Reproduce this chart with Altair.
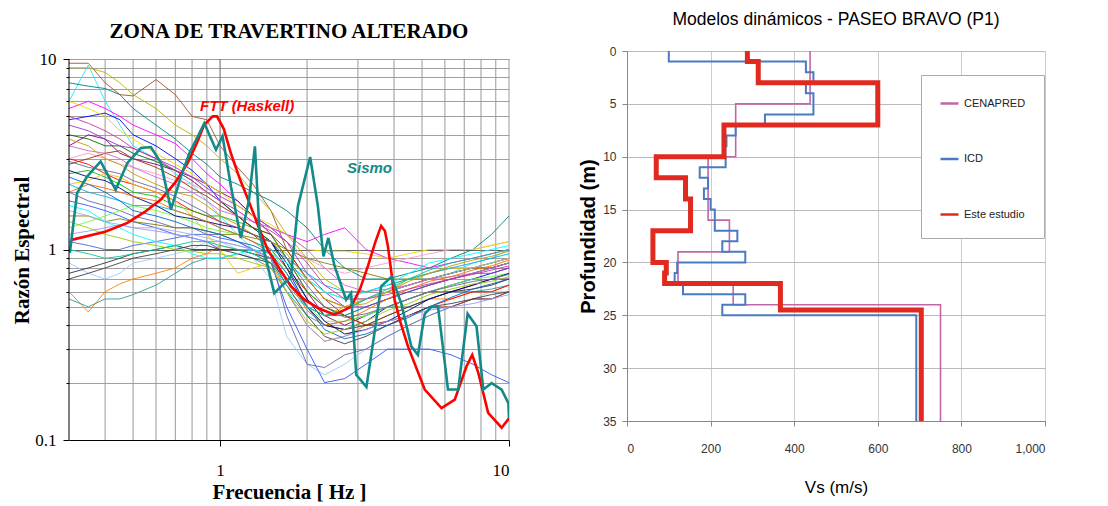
import altair as alt
import pandas as pd

# ---------------- Left panel data ----------------
freq = [0.3, 0.35, 0.4, 0.45, 0.5, 0.6, 0.7, 0.8, 0.9, 1.0, 1.15, 1.3, 1.5, 1.7,
        2.0, 2.3, 2.7, 3.2, 3.8, 4.5, 5.3, 6.3, 7.5, 8.7, 10.0]

s01 = [9.5, 9.5, 7.5, 6.5, 6.4, 7.8, 6.5, 5.0, 4.8, 3.5, 2.7, 2.2, 1.6, 1.0, 0.7, 0.55, 0.5, 0.55, 0.6, 0.65, 0.7, 0.75, 0.8, 0.8, 0.85]
s02 = [6.0, 9.3, 6.0, 4.5, 3.5, 3.0, 2.5, 2.2, 1.8, 1.5, 1.2, 1.0, 0.8, 0.6, 0.5, 0.45, 0.5, 0.55, 0.6, 0.7, 0.7, 0.75, 0.85, 0.9, 1.0]
s03 = [9.0, 9.0, 8.5, 7.5, 6.5, 5.5, 4.5, 4.0, 3.5, 3.0, 2.5, 2.0, 1.6, 1.2, 0.9, 0.7, 0.6, 0.6, 0.65, 0.7, 0.75, 0.8, 0.8, 0.85, 0.9]
s04 = [7.5, 7.2, 7.0, 6.5, 5.5, 4.5, 3.8, 3.2, 2.8, 2.4, 2.2, 2.0, 1.8, 1.6, 1.3, 1.0, 0.8, 0.7, 0.7, 0.75, 0.8, 0.9, 1.0, 1.2, 1.5]
s05 = [5.5, 6.0, 5.5, 5.0, 4.5, 4.0, 3.6, 3.0, 2.5, 2.2, 1.8, 1.5, 1.3, 1.2, 1.1, 1.2, 1.3, 1.0, 0.9, 0.85, 0.8, 0.85, 0.9, 0.95, 1.0]
s06 = [4.8, 5.0, 5.2, 4.8, 4.0, 3.5, 3.0, 2.6, 2.2, 1.8, 1.5, 1.3, 1.1, 0.8, 0.5, 0.4, 0.38, 0.42, 0.5, 0.55, 0.6, 0.65, 0.7, 0.75, 0.8]
s07 = [3.5, 4.0, 3.8, 3.2, 3.0, 2.8, 2.6, 2.4, 2.2, 2.0, 1.8, 1.5, 1.2, 0.9, 0.6, 0.45, 0.4, 0.45, 0.5, 0.55, 0.6, 0.6, 0.65, 0.7, 0.7]
s08 = [0.6, 0.47, 0.6, 0.66, 0.7, 0.75, 0.8, 0.9, 0.95, 1.05, 1.0, 1.0, 0.85, 0.6, 0.4, 0.33, 0.35, 0.4, 0.45, 0.5, 0.55, 0.55, 0.6, 0.6, 0.65]
s09 = [0.55, 0.5, 0.55, 0.55, 0.58, 0.65, 0.75, 0.85, 0.9, 0.9, 0.95, 0.9, 0.8, 0.6, 0.45, 0.4, 0.42, 0.45, 0.5, 0.5, 0.55, 0.6, 0.6, 0.62, 0.65]
s10 = [0.85, 0.75, 0.7, 0.75, 0.85, 0.9, 0.95, 1.0, 1.1, 1.1, 1.0, 0.9, 0.7, 0.35, 0.25, 0.22, 0.25, 0.3, 0.35, 0.4, 0.45, 0.5, 0.55, 0.6, 0.6]
s11 = [2.0, 1.8, 1.7, 1.6, 1.5, 1.4, 1.3, 1.3, 1.2, 1.2, 1.1, 1.0, 0.9, 0.45, 0.25, 0.24, 0.28, 0.3, 0.35, 0.4, 0.45, 0.5, 0.55, 0.55, 0.6]
s12 = [1.8, 1.7, 1.6, 1.5, 1.4, 1.3, 1.2, 1.15, 1.1, 1.0, 1.0, 0.95, 0.85, 0.5, 0.3, 0.2, 0.21, 0.25, 0.3, 0.3, 0.3, 0.28, 0.25, 0.22, 0.2]
s13 = [3.0, 2.8, 2.5, 2.3, 2.2, 2.0, 1.8, 1.6, 1.5, 1.4, 1.3, 1.2, 1.0, 0.8, 0.6, 0.5, 0.45, 0.4, 0.4, 0.45, 0.5, 0.55, 0.6, 0.6, 0.65]
s14 = [2.5, 2.6, 2.4, 2.2, 2.0, 1.9, 1.7, 1.6, 1.5, 1.5, 1.4, 1.3, 1.2, 0.9, 0.6, 0.5, 0.45, 0.5, 0.55, 0.6, 0.65, 0.7, 0.75, 0.8, 0.85]
s15 = [4.0, 3.8, 3.5, 3.5, 3.2, 2.9, 2.6, 2.3, 2.0, 1.8, 1.5, 1.3, 1.1, 0.8, 0.55, 0.45, 0.48, 0.55, 0.6, 0.65, 0.7, 0.75, 0.8, 0.85, 0.9]
s16 = [2.2, 2.3, 2.5, 2.4, 2.2, 2.0, 1.8, 1.5, 1.2, 1.0, 0.75, 0.8, 0.85, 0.7, 0.5, 0.45, 0.5, 0.55, 0.6, 0.7, 0.75, 0.8, 0.8, 0.85, 0.9]
s17 = [0.75, 0.8, 0.85, 0.9, 0.95, 1.0, 1.05, 1.0, 1.0, 1.0, 0.95, 0.9, 0.85, 0.7, 0.5, 0.4, 0.38, 0.4, 0.45, 0.5, 0.55, 0.6, 0.62, 0.65, 0.7]
s18 = [3.0, 3.2, 3.0, 2.8, 2.7, 2.5, 2.3, 2.2, 2.0, 1.8, 1.6, 1.4, 1.3, 1.1, 0.9, 0.8, 0.75, 0.8, 0.85, 0.9, 0.95, 1.0, 1.0, 1.05, 1.1]
s19 = [1.5, 1.5, 1.4, 1.45, 1.4, 1.35, 1.3, 1.3, 1.25, 1.2, 1.2, 1.15, 1.1, 1.0, 0.9, 0.85, 0.8, 0.75, 0.7, 0.7, 0.7, 0.75, 0.8, 0.8, 0.85]
s20 = [1.1, 1.05, 1.0, 1.0, 1.05, 1.1, 1.15, 1.2, 1.2, 1.15, 1.1, 1.0, 0.9, 0.7, 0.5, 0.45, 0.45, 0.5, 0.55, 0.6, 0.65, 0.7, 0.75, 0.8, 0.85]
s21 = [4.5, 4.2, 3.8, 3.5, 3.4, 3.0, 2.7, 2.4, 2.1, 1.9, 1.7, 1.5, 1.3, 1.1, 0.75, 0.6, 0.5, 0.5, 0.55, 0.6, 0.65, 0.7, 0.75, 0.75, 0.8]
s22 = [1.3, 1.4, 1.5, 1.6, 1.7, 1.6, 1.5, 1.4, 1.3, 1.25, 1.2, 1.1, 1.0, 0.75, 0.5, 0.42, 0.42, 0.45, 0.5, 0.55, 0.6, 0.65, 0.7, 0.72, 0.75]
s23 = [2.8, 3.0, 3.2, 3.3, 3.0, 2.7, 2.4, 2.1, 1.9, 1.7, 1.5, 1.3, 1.2, 1.0, 0.7, 0.55, 0.45, 0.4, 0.42, 0.45, 0.5, 0.5, 0.55, 0.55, 0.6]
s24 = [2.2, 2.0, 1.9, 1.8, 1.7, 1.7, 1.6, 1.5, 1.4, 1.3, 1.2, 1.1, 1.0, 0.9, 0.75, 0.65, 0.6, 0.6, 0.65, 0.7, 0.75, 0.8, 0.85, 0.9, 0.95]
s25 = [2.6, 2.4, 2.3, 2.1, 1.9, 1.7, 1.5, 1.45, 1.4, 1.35, 1.3, 1.2, 1.1, 0.85, 0.55, 0.42, 0.36, 0.38, 0.42, 0.48, 0.55, 0.6, 0.65, 0.7, 0.75]
s26 = [1.6, 1.5, 1.4, 1.35, 1.3, 1.3, 1.25, 1.2, 1.15, 1.1, 1.05, 1.0, 0.95, 0.85, 0.7, 0.6, 0.55, 0.55, 0.6, 0.65, 0.7, 0.75, 0.8, 0.85, 0.9]
s27 = [6.0, 5.5, 5.0, 4.2, 3.8, 3.2, 2.8, 2.5, 2.2, 2.0, 1.7, 1.5, 1.35, 1.2, 1.0, 0.98, 0.98, 0.95, 0.9, 0.95, 1.0, 1.0, 1.0, 1.05, 1.1]
s28 = [1.7, 1.6, 1.4, 1.3, 1.2, 1.1, 1.05, 0.95, 0.9, 0.9, 0.95, 1.0, 0.95, 0.85, 0.7, 0.6, 0.55, 0.6, 0.65, 0.75, 0.85, 0.9, 0.95, 1.0, 1.05]
s29 = [3.5, 3.3, 3.2, 3.0, 2.7, 2.4, 2.2, 2.0, 1.8, 1.6, 1.5, 1.4, 1.3, 1.2, 1.0, 0.8, 0.65, 0.6, 0.62, 0.65, 0.7, 0.72, 0.75, 0.8, 0.85]
s30 = [0.7, 0.75, 0.8, 0.85, 0.9, 0.95, 1.0, 1.05, 1.05, 1.0, 1.0, 0.95, 0.9, 0.65, 0.45, 0.35, 0.32, 0.35, 0.4, 0.45, 0.5, 0.52, 0.55, 0.58, 0.6]
s31 = [2.0, 2.2, 2.1, 2.0, 1.9, 1.8, 1.6, 1.5, 1.4, 1.3, 1.2, 1.1, 0.95, 0.7, 0.48, 0.4, 0.42, 0.48, 0.55, 0.62, 0.68, 0.72, 0.78, 0.82, 0.88]
s32 = [1.2, 1.25, 1.3, 1.35, 1.3, 1.25, 1.2, 1.15, 1.1, 1.1, 1.05, 1.0, 0.9, 0.6, 0.4, 0.33, 0.35, 0.38, 0.42, 0.45, 0.48, 0.5, 0.52, 0.55, 0.58]
s33 = [3.8, 3.5, 3.0, 2.8, 2.5, 2.2, 2.0, 1.9, 1.7, 1.5, 1.35, 1.2, 1.1, 0.95, 0.7, 0.55, 0.5, 0.52, 0.6, 0.68, 0.75, 0.82, 0.88, 0.92, 0.98]
s34 = [2.4, 2.2, 2.0, 1.8, 1.6, 1.5, 1.4, 1.3, 1.25, 1.2, 1.1, 1.05, 0.95, 0.75, 0.5, 0.38, 0.34, 0.36, 0.4, 0.44, 0.5, 0.56, 0.62, 0.66, 0.7]
s35 = [1.4, 1.3, 1.2, 1.15, 1.1, 1.05, 1.0, 0.98, 0.95, 0.95, 0.9, 0.85, 0.8, 0.6, 0.42, 0.36, 0.38, 0.42, 0.48, 0.52, 0.58, 0.62, 0.66, 0.68, 0.72]
s36 = [5.0, 4.6, 4.2, 3.8, 3.4, 3.0, 2.6, 2.3, 2.0, 1.8, 1.6, 1.4, 1.25, 1.1, 0.85, 0.65, 0.55, 0.55, 0.58, 0.62, 0.66, 0.7, 0.74, 0.78, 0.82]
s37 = [1.0, 0.95, 0.9, 0.92, 0.95, 1.0, 1.05, 1.1, 1.1, 1.05, 1.0, 0.95, 0.85, 0.65, 0.5, 0.45, 0.48, 0.55, 0.62, 0.7, 0.78, 0.85, 0.9, 0.95, 1.0]
s38 = [2.9, 2.7, 2.6, 2.5, 2.3, 2.1, 1.9, 1.7, 1.55, 1.4, 1.3, 1.2, 1.1, 0.9, 0.65, 0.5, 0.44, 0.46, 0.5, 0.55, 0.6, 0.64, 0.68, 0.7, 0.74]

thin_series = [s01, s02, s03, s04, s05, s06, s07, s08, s09, s10, s11, s12, s13, s14, s15,
               s16, s17, s18, s19, s20, s21, s22, s23, s24, s25, s26, s27, s28, s29, s30,
               s31, s32, s33, s34, s35, s36, s37, s38]
thin_colors = ["#A0522D", "#33E0FF", "#B5B500", "#008080", "#FF00FF", "#0000FF", "#800080",
               "#FF8000", "#339999", "#99CCFF", "#6666AA", "#3355FF", "#FF0000", "#00C000",
               "#006400", "#FFC000", "#333333", "#FF99CC", "#808000", "#4169E1", "#9933CC",
               "#66FF33", "#993300", "#00B0F0", "#000080", "#A0B0E0", "#E6D800", "#00FFFF",
               "#CC66CC", "#404040", "#FF6600", "#9999FF", "#CC9900", "#0066CC", "#99CC00",
               "#CC3399", "#00CC99", "#666699"]

ftt_f = [0.304, 0.40, 0.478, 0.55, 0.624, 0.70, 0.773, 0.83, 0.88, 0.943, 0.976, 1.03, 1.09,
         1.17, 1.25, 1.35, 1.46, 1.6, 1.76, 1.96, 2.2, 2.49, 2.84, 3.05, 3.25, 3.45, 3.61,
         3.72, 3.81, 3.92, 4.02, 4.2, 4.47, 5.11, 5.84, 6.49, 7.13, 7.46, 7.83, 8.47, 9.43, 10.0]
ftt_v = [1.12, 1.24, 1.38, 1.58, 1.83, 2.25, 2.85, 3.6, 4.5, 5.0, 5.0, 4.3, 3.2,
         2.35, 1.83, 1.35, 1.0, 0.80, 0.64, 0.545, 0.49, 0.455, 0.50, 0.62, 0.82, 1.1, 1.33,
         1.25, 1.04, 0.75, 0.545, 0.42, 0.31, 0.184, 0.147, 0.163, 0.244, 0.28, 0.225, 0.139, 0.116, 0.13]

sis_f = [0.302, 0.32, 0.347, 0.386, 0.435, 0.478, 0.532, 0.576, 0.624, 0.676, 0.732, 0.783,
         0.882, 0.918, 0.968, 1.02, 1.09, 1.18, 1.26, 1.32, 1.37, 1.54, 1.66, 1.76, 1.86,
         2.05, 2.18, 2.28, 2.37, 2.49, 2.73, 2.84, 2.96, 3.21, 3.38, 3.61, 3.92, 4.24, 4.59,
         4.84, 5.11, 5.39, 5.68, 6.15, 6.67, 7.19, 7.72, 8.15, 8.71, 9.43, 9.95, 10.0]
sis_v = [0.96, 1.98, 2.42, 2.90, 2.06, 2.85, 3.41, 3.45, 2.85, 1.62, 2.42, 3.2,
         4.6, 4.0, 3.34, 3.93, 2.15, 1.15, 1.83, 3.48, 1.22, 0.59, 0.66, 0.72, 1.69,
         3.06, 1.69, 0.92, 1.15, 0.82, 0.545, 0.59, 0.22, 0.19, 0.32, 0.64, 0.72, 0.52, 0.31,
         0.28, 0.46, 0.50, 0.50, 0.184, 0.184, 0.46, 0.395, 0.184, 0.199, 0.184, 0.156, 0.13]

labels_left = ["FTT (Haskell)", "Sismo"]
labels_left_f = [1.24, 3.29]
labels_left_v = [5.67, 2.68]
labels_left_c = ["#FF0000", "#138A8A"]

left_title = "ZONA DE TRAVERTINO ALTERADO"
right_title = "Modelos dinámicos  -  PASEO BRAVO (P1)"

x_grid = [0.4, 0.5, 0.6, 0.7, 0.8, 0.9, 1, 2, 3, 4, 5, 6, 7, 8, 9, 10]
y_vals = [0.1, 0.2, 0.3, 0.4, 0.5, 0.6, 0.7, 0.8, 0.9, 1, 2, 3, 4, 5, 6, 7, 8, 9, 10]

# ---------------- Right panel data ----------------
models = ["CENAPRED", "ICD", "Este estudio"]
model_colors = ["#C266A8", "#4A7BC0", "#E02A20"]

cen_top = [0, 5, 10, 16, 19, 22, 24]
cen_bot = [5, 10, 16, 19, 22, 24, 35]
cen_vs = [438, 260, 194, 245, 122, 254, 750]

icd_top = [0, 1, 2, 3, 4, 6, 7, 8, 9, 10, 11, 12, 13, 14, 15, 17, 18, 19, 20, 21, 22, 23, 24, 25]
icd_bot = [1, 2, 3, 4, 6, 7, 8, 9, 10, 11, 12, 13, 14, 15, 17, 18, 19, 20, 21, 22, 23, 24, 25, 35]
icd_vs = [100, 428, 446, 428, 446, 330, 260, 238, 235, 236, 174, 194, 184, 200, 210, 264,
          228, 283, 120, 114, 134, 283, 228, 692]

est_top = [0, 1, 3, 7, 10, 12, 14, 17, 20, 21, 22, 24.5]
est_bot = [1, 3, 7, 10, 12, 14, 17, 20, 21, 22, 24.5, 35]
est_vs = [288, 314, 600, 232, 70, 140, 152, 62, 94, 90, 367, 704]

# ---------------- Tables ----------------
thin_names = ["s%02d" % (i + 1) for i in range(len(thin_series))]
rows = []
for name, vals in zip(thin_names, thin_series):
    for f, v in zip(freq, vals):
        rows.append({"serie": name, "f": f, "v": v})
thin_df = pd.DataFrame(rows)
ftt_df = pd.DataFrame({"f": ftt_f, "v": ftt_v})
sis_df = pd.DataFrame({"f": sis_f, "v": sis_v})
lab_df = pd.DataFrame({"t": labels_left, "f": labels_left_f, "v": labels_left_v, "c": labels_left_c})
grid_df = pd.DataFrame({"f": x_grid, "v": [0.1] * len(x_grid), "hi": [10] * len(x_grid)})
edge_df = pd.DataFrame({"f": [0.3], "v": [0.1], "hi": [10]})


def profile(name, tops, bots, vss):
    out = []
    k = 0
    for t, b, vs in zip(tops, bots, vss):
        out.append({"modelo": name, "vs": vs, "z": t, "k": k}); k += 1
        out.append({"modelo": name, "vs": vs, "z": b, "k": k}); k += 1
    return pd.DataFrame(out)


cen_df = profile("CENAPRED", cen_top, cen_bot, cen_vs)
icd_df = profile("ICD", icd_top, icd_bot, icd_vs)
est_df = profile("Este estudio", est_top, est_bot, est_vs)

SERIF = "Liberation Serif"
SANS = "Liberation Sans"

# the left plot sits 8 px lower than the right one: its y scale keeps an empty strip above 10
Y_TOP = 11.016

xs = alt.X("f:Q", scale=alt.Scale(type="log", domain=[0.3, 10], nice=False),
           axis=alt.Axis(values=x_grid, title="Frecuencia   [ Hz ]", grid=False,
                         labelExpr="datum.value == 1 || datum.value == 10 ? datum.label : ''",
                         labelFont=SERIF, labelFontSize=17, labelColor="black", labelPadding=16,
                         titleFont=SERIF, titleFontSize=21, titleFontWeight="bold", titleColor="black",
                         titlePadding=3, domainColor="black", tickColor="black",
                         tickSize={"condition": {"test": "datum.value == 1 || datum.value == 10", "value": 6}, "value": 0}))
ys = alt.Y("v:Q", scale=alt.Scale(type="log", domain=[0.1, Y_TOP], nice=False),
           axis=alt.Axis(values=y_vals, title="Razón Espectral", domain=False, titleY=199,
                         labelExpr="datum.value == 0.1 ? '0.1' : datum.value == 1 ? '1' : datum.value == 10 ? '10' : ''",
                         labelFont=SERIF, labelFontSize=17, labelColor="black", labelPadding=7,
                         titleFont=SERIF, titleFontSize=21, titleFontWeight="bold", titleColor="black",
                         titlePadding=2, tickColor="black",
                         tickSize={"condition": {"test": "datum.value == 0.1 || datum.value == 1 || datum.value == 10", "value": 6}, "value": 3},
                         gridColor={"condition": {"test": "datum.value == 1", "value": "#666666"}, "value": "#a0a0a0"},
                         gridWidth=1))

vgrid = alt.Chart(grid_df).mark_rule(strokeWidth=1).encode(
    x=xs, y=ys, y2="hi:Q",
    color=alt.condition("datum.f == 1", alt.value("#666666"), alt.value("#999999")))
thin = alt.Chart(thin_df).mark_line(strokeWidth=0.9, clip=True).encode(
    x="f:Q", y="v:Q",
    color=alt.Color("serie:N", scale=alt.Scale(domain=thin_names, range=thin_colors), legend=None))
ftt = alt.Chart(ftt_df).mark_line(color="#FF0000", strokeWidth=2.6, clip=True).encode(x="f:Q", y="v:Q")
sis = alt.Chart(sis_df).mark_line(color="#138A8A", strokeWidth=2.6, clip=True).encode(x="f:Q", y="v:Q")
edge = alt.Chart(edge_df).mark_rule(color="black", strokeWidth=1).encode(x="f:Q", y="v:Q", y2="hi:Q")
labs = alt.Chart(lab_df).mark_text(font=SANS, fontSize=15, fontWeight="bold", fontStyle="italic").encode(
    x="f:Q", y="v:Q", text="t:N", color=alt.Color("c:N", scale=None))
ltitle = alt.Chart(pd.DataFrame({"t": [left_title]})).mark_text(
    font=SERIF, fontSize=21, fontWeight="bold", color="black", baseline="middle", align="center"
).encode(text="t:N", x=alt.value(220), y=alt.value(-19))

left = alt.layer(vgrid, thin, ftt, sis, edge, labs, ltitle).properties(width=440, height=389)

color_enc = alt.Color("modelo:N", scale=alt.Scale(domain=models, range=model_colors),
                      legend=alt.Legend(title=None, orient="none", legendX=294, legendY=24,
                                        symbolType="stroke", symbolSize=324, symbolStrokeWidth=2.5,
                                        rowPadding=39.5, padding=18, fillColor="white",
                                        strokeColor="#aaaaaa", labelFont=SANS, labelFontSize=11,
                                        labelColor="#222222", labelOffset=4))
rx = alt.X("vs:Q", scale=alt.Scale(domain=[0, 1000], nice=False),
           axis=alt.Axis(values=[0, 200, 400, 600, 800, 1000], format=",.0f", title="Vs  (m/s)",
                         labelFont=SANS, labelFontSize=12, labelColor="#333333", labelPadding=17,
                         titleFont=SANS, titleFontSize=17, titleFontWeight="normal", titleColor="black",
                         titlePadding=25, domainColor="#888888", tickColor="#888888", tickSize=5,
                         gridColor="#cccccc"))
ry = alt.Y("z:Q", scale=alt.Scale(domain=[0, 35], reverse=True, nice=False),
           axis=alt.Axis(values=[0, 5, 10, 15, 20, 25, 30, 35], title="Profundidad  (m)",
                         labelFont=SANS, labelFontSize=12, labelColor="#333333", labelPadding=6,
                         titleFont=SANS, titleFontSize=20, titleFontWeight="bold", titleColor="black",
                         titlePadding=4, domainColor="#888888", tickColor="#888888", tickSize=5,
                         gridColor="#bbbbbb"))

cen = alt.Chart(cen_df).mark_line(strokeWidth=1.6, clip=True).encode(x=rx, y=ry, color=color_enc, order="k:Q")
icd = alt.Chart(icd_df).mark_line(strokeWidth=2.0, clip=True).encode(x="vs:Q", y="z:Q", color=color_enc, order="k:Q")
est = alt.Chart(est_df).mark_line(strokeWidth=5.0, clip=True).encode(x="vs:Q", y="z:Q", color=color_enc, order="k:Q")
rtitle = alt.Chart(pd.DataFrame({"t": [right_title]})).mark_text(
    font=SANS, fontSize=17.5, color="black", baseline="middle", align="center"
).encode(text="t:N", x=alt.value(209), y=alt.value(-31.5))

right = alt.layer(cen, icd, est, rtitle).properties(width=418, height=370)

chart = alt.hconcat(left, right, spacing=68).properties(
    padding={"left": 3, "top": 2, "right": 5, "bottom": 0}
).resolve_scale(color="independent").configure_view(stroke=None)

chart.save("out.html", embed_options={"renderer": "svg", "actions": False})
